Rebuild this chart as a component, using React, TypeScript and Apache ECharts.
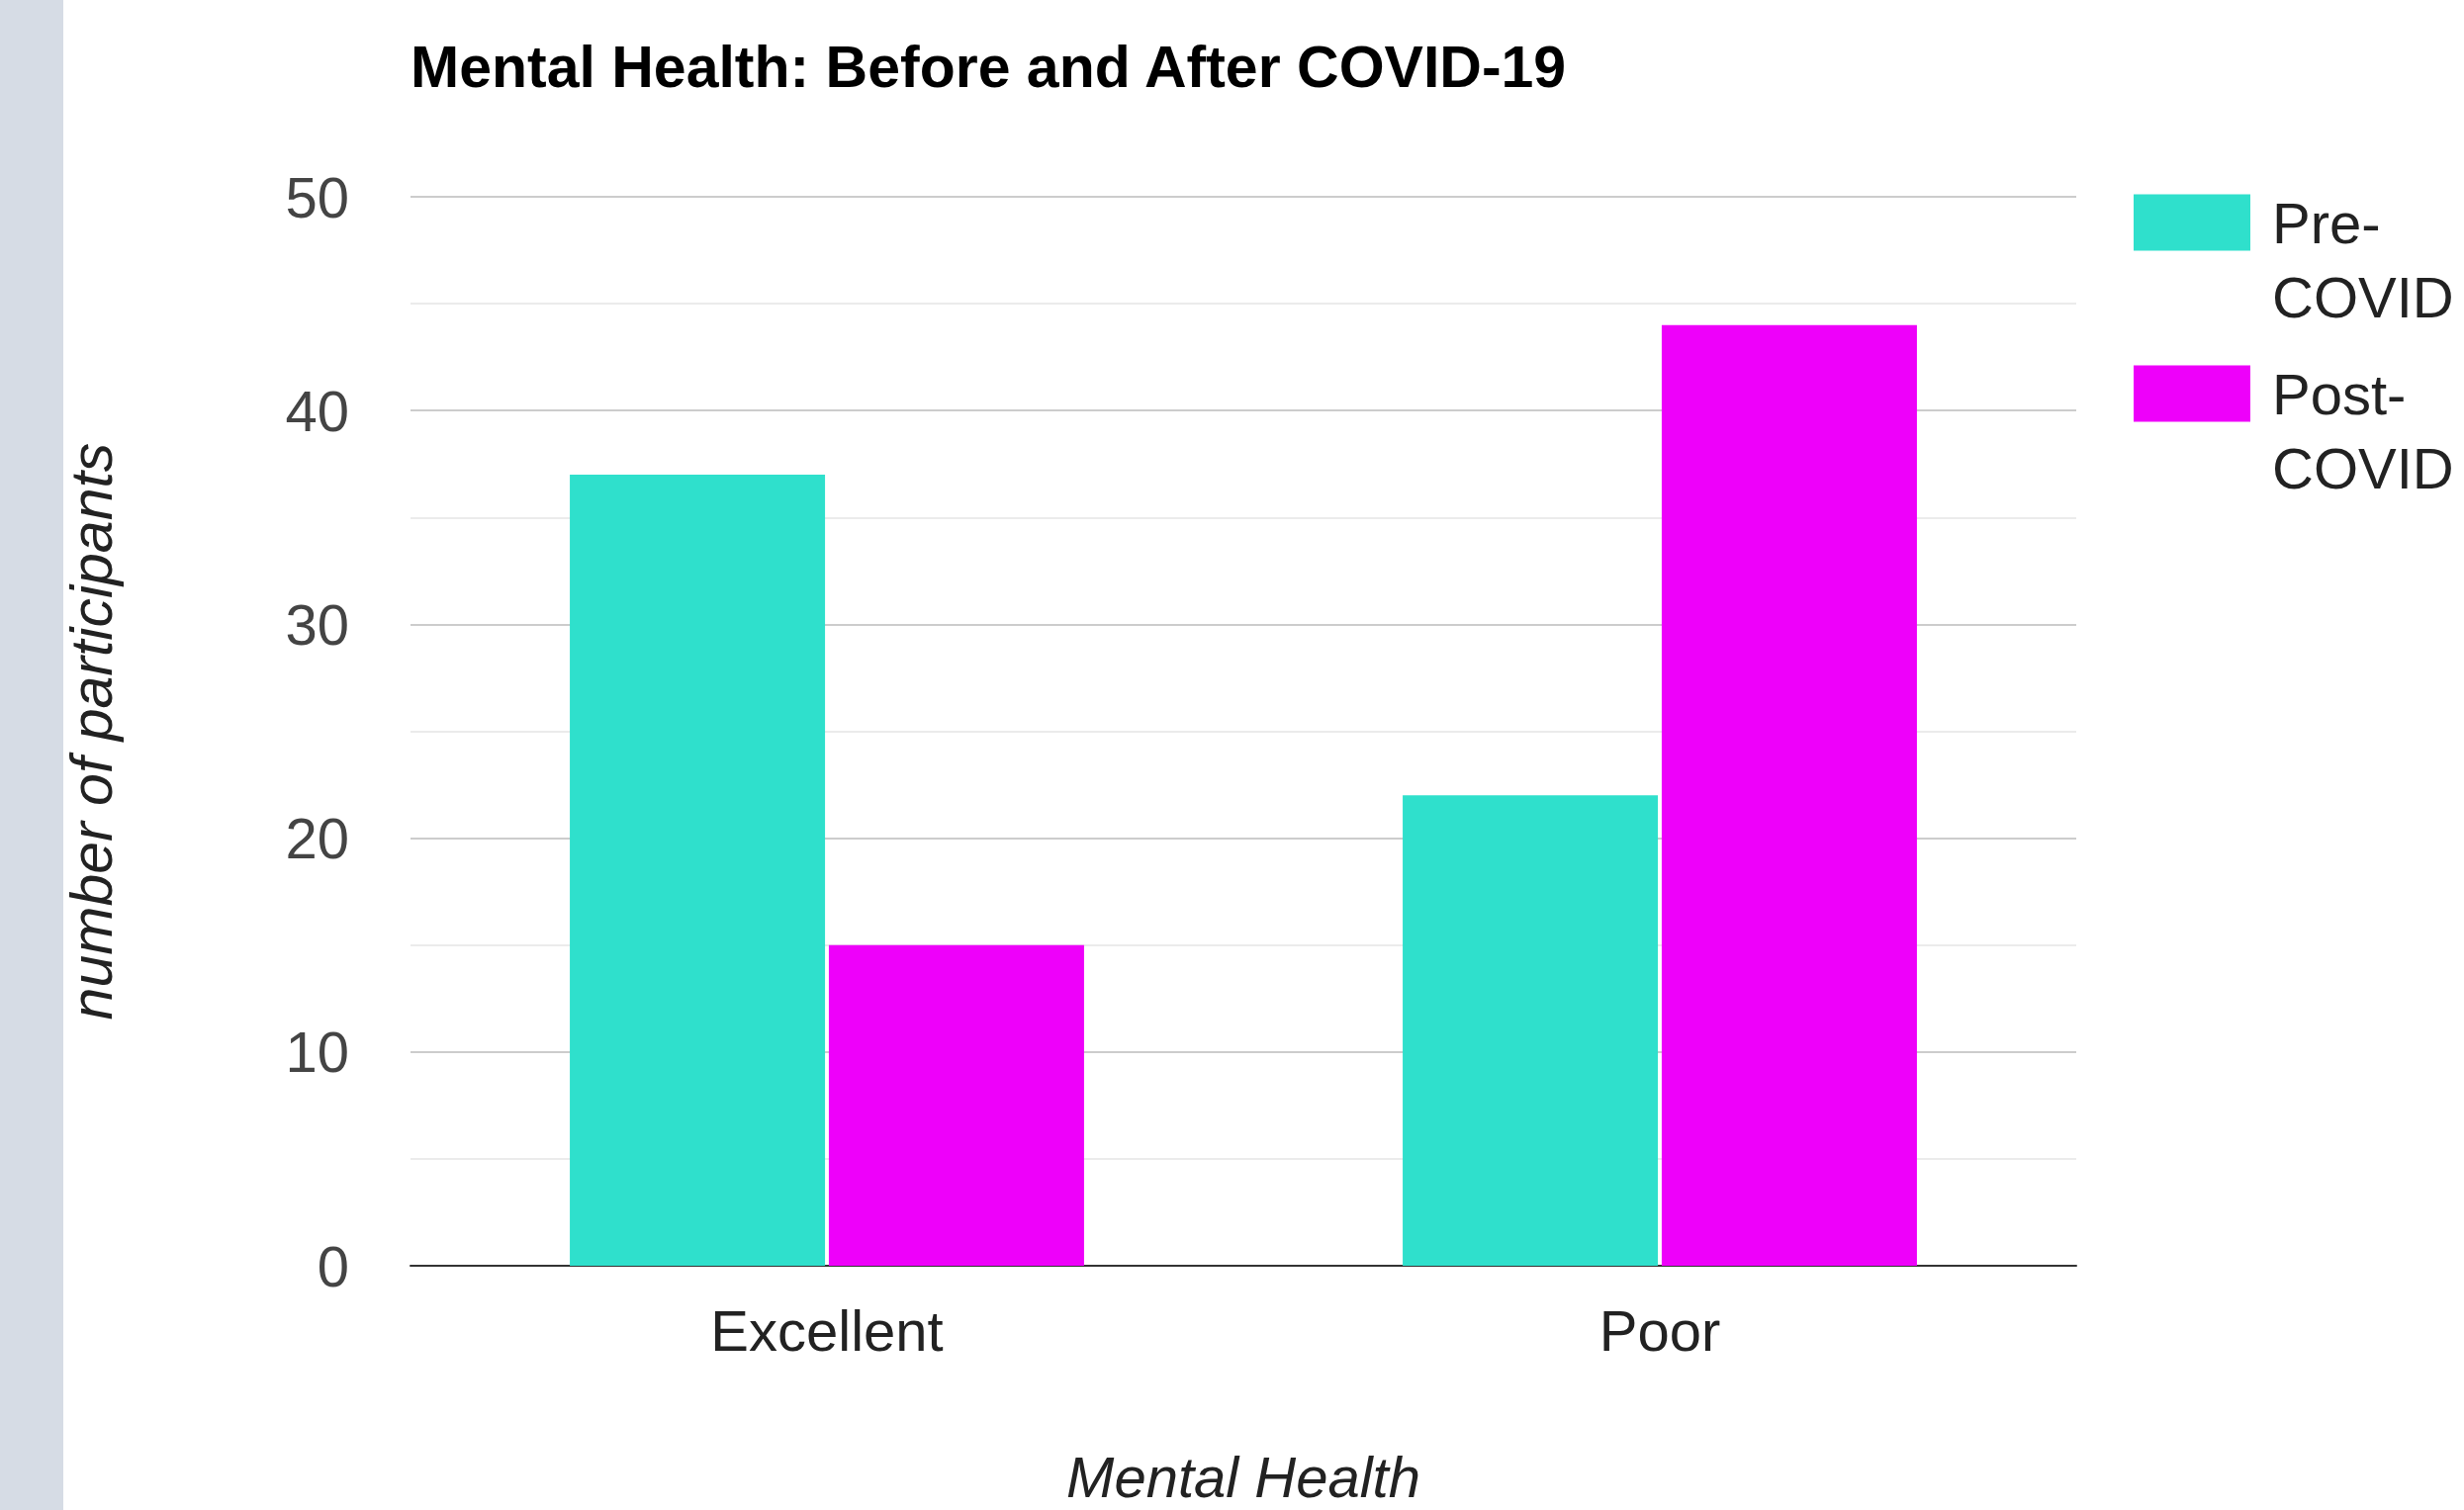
import React, { useEffect, useRef } from "react";
import * as echarts from "echarts";

const categories = ["Excellent", "Poor"];
const seriesNames = ["Pre-COVID", "Post-COVID"];
const preCovid = [37, 22];
const postCovid = [15, 44];
const yTicks = { min: 0, max: 50, interval: 10 };

const FONT = '"Liberation Sans", Arial, Helvetica, sans-serif';
const TEAL = "#2fe0cc";
const MAGENTA = "#ee00fa";

export default function App() {
  const ref = useRef<HTMLDivElement>(null);
  useEffect(() => {
    document.body.style.margin = "0";
    if (!ref.current) return;
    const chart = echarts.init(ref.current, undefined, { renderer: "svg" });
    chart.setOption({
      animation: false,
      backgroundColor: "#ffffff",
      textStyle: { fontFamily: FONT },
      title: {
        text: "Mental Health: Before and After COVID-19",
        left: 415,
        top: 38,
        padding: 0,
        textStyle: {
          fontFamily: FONT,
          fontSize: 59,
          fontWeight: "bold",
          color: "#000000",
          lineHeight: 59,
        },
      },
      graphic: [
        {
          type: "rect",
          left: 0,
          top: 0,
          shape: { x: 0, y: 0, width: 64, height: 1527 },
          style: { fill: "#d6dce5" },
          silent: true,
        },
      ],
      legend: {
        orient: "vertical",
        left: 2157,
        top: 140,
        padding: 0,
        itemWidth: 118,
        itemHeight: 57,
        itemGap: -16,
        icon: "rect",
        data: seriesNames,
        formatter: (name: string) => {
          const parts = name.split("-");
          return "{g| }\n{a|" + parts[0] + "-}\n{a|" + parts[1] + "}";
        },
        textStyle: {
          fontFamily: FONT,
          fontSize: 58,
          color: "#222222",
          rich: {
            g: { fontSize: 20, lineHeight: 75 },
            a: {
              fontFamily: FONT,
              fontSize: 58,
              lineHeight: 75,
              color: "#222222",
              padding: [0, 0, 0, 17],
            },
          },
        },
        itemStyle: { borderWidth: 0 },
      },
      grid: { left: 415, right: 392, top: 199, bottom: 238, containLabel: false },
      xAxis: {
        type: "category",
        data: categories,
        name: "Mental Health",
        nameLocation: "middle",
        nameGap: 184,
        nameTextStyle: {
          fontFamily: FONT,
          fontSize: 58,
          fontStyle: "italic",
          color: "#222222",
        },
        axisLine: { show: true, lineStyle: { color: "#333333", width: 2 } },
        axisTick: { show: false },
        axisLabel: {
          fontFamily: FONT,
          fontSize: 58,
          color: "#222222",
          margin: 36,
        },
        splitLine: { show: false },
      },
      yAxis: {
        type: "value",
        min: yTicks.min,
        max: yTicks.max,
        interval: yTicks.interval,
        name: "number of participants",
        nameLocation: "middle",
        nameGap: 293,
        nameTextStyle: {
          fontFamily: FONT,
          fontSize: 59,
          fontStyle: "italic",
          color: "#222222",
        },
        axisLine: { show: false },
        axisTick: { show: false },
        axisLabel: {
          fontFamily: FONT,
          fontSize: 58,
          color: "#444444",
          margin: 62,
        },
        splitLine: { show: true, lineStyle: { color: "#cccccc", width: 2 } },
        minorTick: { show: false, splitNumber: 2 },
        minorSplitLine: { show: true, lineStyle: { color: "#ebebeb", width: 2 } },
      },
      series: [
        {
          name: seriesNames[0],
          type: "bar",
          data: preCovid,
          barWidth: 258,
          barGap: "1.5%",
          itemStyle: { color: TEAL },
        },
        {
          name: seriesNames[1],
          type: "bar",
          data: postCovid,
          barWidth: 258,
          barGap: "1.5%",
          itemStyle: { color: MAGENTA },
        },
      ],
    });
    return () => chart.dispose();
  }, []);
  return <div ref={ref} style={{ width: 2491, height: 1527 }} />;
}
